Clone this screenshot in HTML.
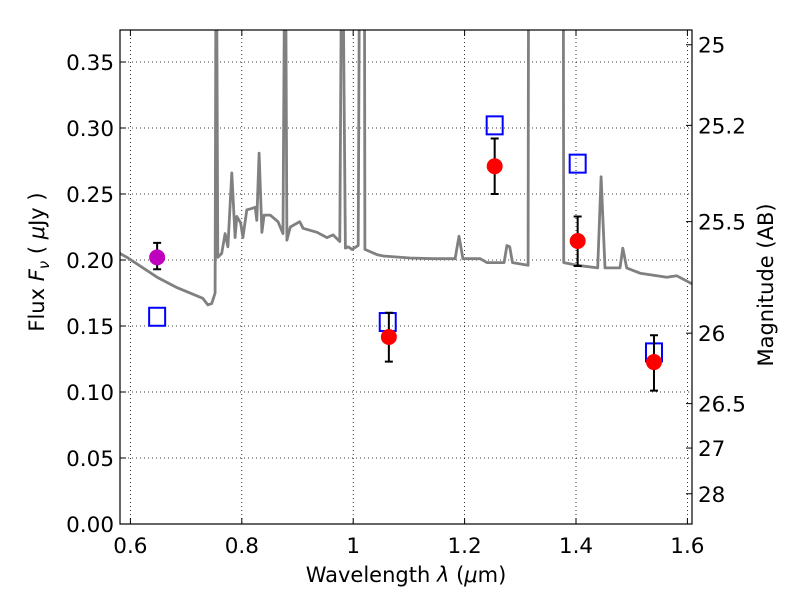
<!DOCTYPE html>
<html><head><meta charset="utf-8"><style>
body{margin:0;background:#fff}
svg text{font-family:"DejaVu Sans","Liberation Sans",sans-serif;fill:#000}
</style></head><body>
<svg id="chart" width="800" height="600" viewBox="0 0 800 600" xmlns="http://www.w3.org/2000/svg">
<defs><clipPath id="clip"><rect x="120" y="30" width="572" height="494"/></clipPath></defs>
<rect width="800" height="600" fill="#fff"/>
<g id="grid"></g>
<g id="spec" clip-path="url(#clip)"></g>
<g id="marks"></g>
<rect x="120" y="30" width="572" height="494" fill="none" stroke="#000" stroke-width="1.2"/>
<g id="axes"></g>
<text x="406" y="582" font-size="21" text-anchor="middle">Wavelength  <tspan font-style="italic">λ</tspan> (<tspan font-style="italic">μ</tspan>m)</text>
<text transform="translate(44,262) rotate(-90)" font-size="21" text-anchor="middle">Flux  <tspan font-style="italic">F</tspan><tspan font-style="italic" font-size="15" dy="5">ν</tspan><tspan dy="-5">  (  </tspan><tspan font-style="italic">μ</tspan>Jy )</text>
<text transform="translate(773,285) rotate(-90)" font-size="21" text-anchor="middle">Magnitude (AB)</text>
</svg>
<script>
const specLam=[0.581,0.594,0.648,0.684,0.730,0.739,0.746,0.752,0.754,0.757,0.764,0.770,0.775,0.782,0.788,0.791,0.798,0.802,0.809,0.818,0.824,0.827,0.831,0.836,0.840,0.851,0.865,0.874,0.878,0.881,0.887,0.904,0.910,0.935,0.953,0.964,0.976,0.980,0.986,0.991,0.998,1.009,1.012,1.020,1.021,1.043,1.054,1.102,1.143,1.183,1.190,1.197,1.228,1.240,1.264,1.271,1.276,1.281,1.286,1.314,1.315,1.377,1.378,1.402,1.439,1.445,1.452,1.479,1.484,1.491,1.515,1.563,1.581,1.608];
const specFlux=[0.205,0.202,0.187,0.179,0.171,0.166,0.167,0.175,0.5,0.202,0.205,0.220,0.210,0.266,0.217,0.233,0.228,0.217,0.238,0.239,0.240,0.230,0.281,0.221,0.234,0.234,0.229,0.220,0.5,0.215,0.225,0.229,0.224,0.221,0.217,0.219,0.214,0.5,0.209,0.210,0.208,0.211,0.5,0.5,0.208,0.204,0.203,0.2015,0.201,0.201,0.218,0.201,0.201,0.198,0.198,0.198,0.211,0.210,0.198,0.196,0.5,0.5,0.198,0.196,0.194,0.263,0.194,0.194,0.209,0.194,0.190,0.187,0.188,0.182];
const obsLam=[0.648,1.064,1.254,1.403,1.540];
const obsFlux=[0.202,0.1417,0.271,0.2144,0.1227];
const obsLo=[0.193,0.123,0.250,0.1955,0.101];
const obsHi=[0.213,0.160,0.292,0.233,0.143];
const obsColor=["#bf00bf","#ff0000","#ff0000","#ff0000","#ff0000"];
const modLam=[0.648,1.062,1.254,1.403,1.540];
const modFlux=[0.157,0.153,0.302,0.273,0.130];
const xTicks=[0.6,0.8,1.0,1.2,1.4,1.6];
const xTickLabels=["0.6","0.8","1","1.2","1.4","1.6"];
const yTicks=[0,0.05,0.1,0.15,0.2,0.25,0.3,0.35];
const yTickLabels=["0.00","0.05","0.10","0.15","0.20","0.25","0.30","0.35"];
const magTicks=[25,25.2,25.5,26,26.5,27,28];
const magTickLabels=["25","25.2","25.5","26","26.5","27","28"];

const X=l=>130.4+(l-0.6)*557;
const Y=f=>524-f*1320;
const NS="http://www.w3.org/2000/svg";
function mk(par,tag,attrs){const e=document.createElementNS(NS,tag);for(const k in attrs)e.setAttribute(k,attrs[k]);document.getElementById(par).appendChild(e);return e;}

xTicks.forEach((t,i)=>{
  const x=X(t);
  const g=mk('grid','line',{x1:x,x2:x,y1:30,y2:524,stroke:'#000','stroke-width':0.8,'stroke-dasharray':'1,3'});
  
  
  mk('axes','line',{x1:x,x2:x,y1:524,y2:518,stroke:'#000'});
  mk('axes','line',{x1:x,x2:x,y1:30,y2:36,stroke:'#000'});
  const tx=mk('axes','text',{x:x,y:553,'font-size':21.5,'text-anchor':'middle'});
  tx.textContent=xTickLabels[i];
  
  
});
yTicks.forEach((t,i)=>{
  const y=Y(t);
  const g=mk('grid','line',{x1:120,x2:692,y1:y,y2:y,stroke:'#000','stroke-width':0.8,'stroke-dasharray':'1,3'});
  
  
  mk('axes','line',{x1:120,x2:126,y1:y,y2:y,stroke:'#000'});
  const tx=mk('axes','text',{x:114,y:y+8,'font-size':21.5,'text-anchor':'end'});
  tx.textContent=yTickLabels[i];
  
  
});
magTicks.forEach((m,i)=>{
  const y=Y(Math.pow(10,(23.9-m)/2.5));
  mk('axes','line',{x1:686,x2:692,y1:y,y2:y,stroke:'#000'});
  const tx=mk('axes','text',{x:698,y:y+8,'font-size':21.5,'text-anchor':'start'});
  tx.textContent=magTickLabels[i];
  
  
});
const d=specLam.map((l,i)=>(i?'L':'M')+X(l).toFixed(1)+','+Y(specFlux[i]).toFixed(1)).join('');
const p=mk('spec','path',{d:d,fill:'none',stroke:'#808080','stroke-width':2.8,'stroke-linejoin':'round'});


modLam.forEach((l,i)=>{
  const r=mk('marks','rect',{x:X(l)-8,y:Y(modFlux[i])-9,width:16,height:18,fill:'none',stroke:'#0000ff','stroke-width':2});
  
  
});
obsLam.forEach((l,i)=>{
  const x=X(l),y1=Y(obsLo[i]),y2=Y(obsHi[i]);
  const e=mk('marks','path',{d:`M${x},${y1}L${x},${y2}M${x-4},${y1}L${x+4},${y1}M${x-4},${y2}L${x+4},${y2}`,stroke:'#000','stroke-width':2,fill:'none'});
  
  
  const c=mk('marks','circle',{cx:x,cy:Y(obsFlux[i]),r:8,fill:obsColor[i]});
  
  
});
</script>
</body></html>
